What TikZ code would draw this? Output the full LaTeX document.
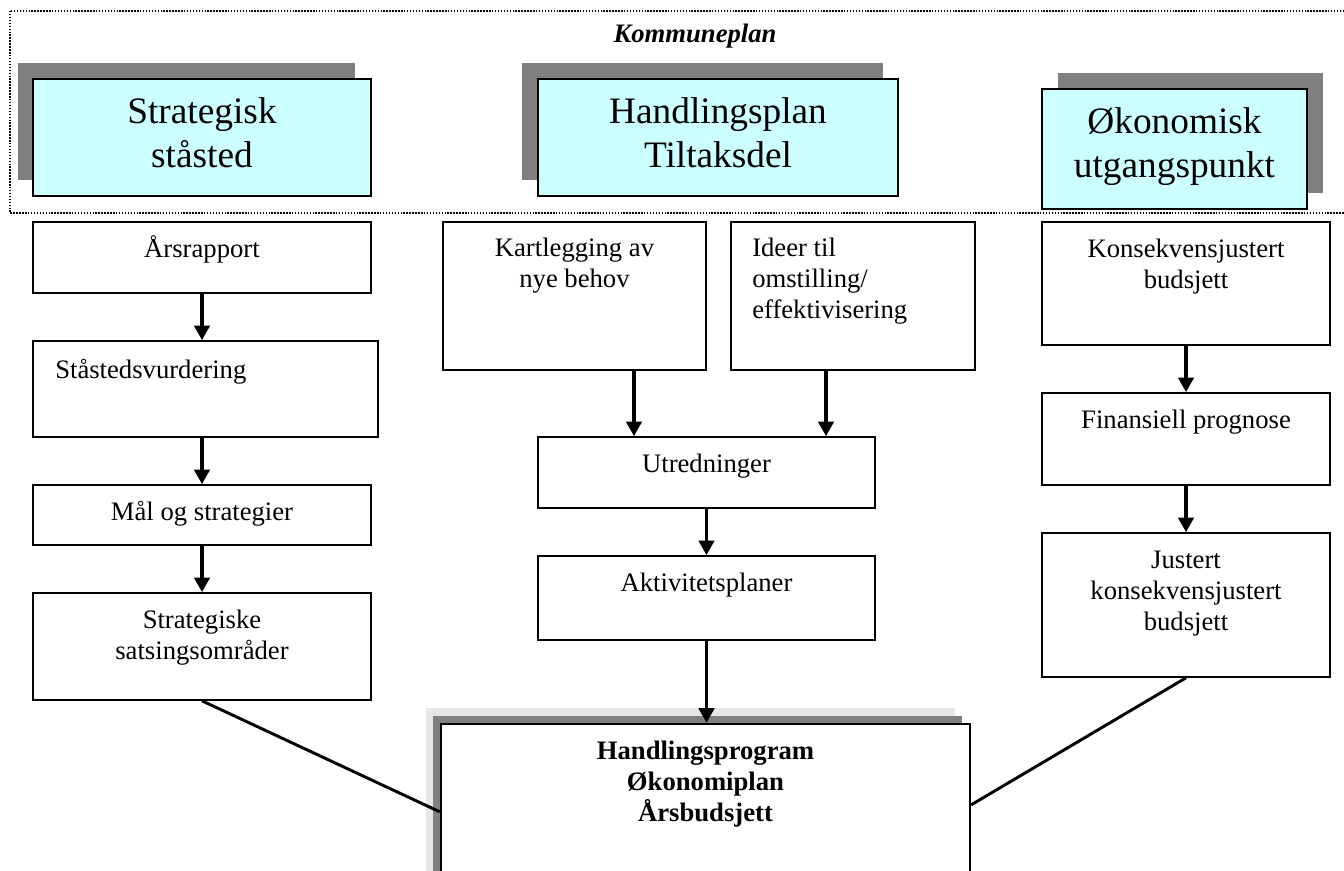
\documentclass[tikz,border=0pt]{standalone}
\usepackage{fontspec}
\setmainfont{Liberation Serif}
\usetikzlibrary{arrows.meta,fit}
\definecolor{hdr}{HTML}{CCFFFF}
\definecolor{shd}{HTML}{808080}
\definecolor{lshd}{HTML}{E6E6E6}
\tikzset{
  box/.style={draw, line width=1.2pt, inner sep=0pt, fill=white},
  hbox/.style={draw, line width=1.7pt, inner sep=0pt, fill=hdr},
  txt/.style={anchor=north, inner sep=0pt, align=center, font=\fontsize{20}{23.25}\selectfont},
  txtl/.style={txt, anchor=north west, align=left},
  htxt/.style={anchor=north, inner sep=0pt, align=center, font=\fontsize{28}{33}\selectfont},
  arr/.style={line width=2.6pt, -{Triangle[width=11.5pt,length=11pt]}},
  link/.style={line width=2.2pt},
  frame/.style={line width=1.1pt, dash pattern=on 1.1pt off 1.1pt},
}
\newcommand\st{\rule{0pt}{20pt}}
\newcommand\hst{\rule{0pt}{28pt}}
\begin{document}
\begin{tikzpicture}[x=0.75pt, y=-0.75pt]
\clip (0,0) rectangle (1344,870);
\fill[white] (0,0) rectangle (1344,870);
% Kommuneplan frame
\draw[frame] (10,11) rectangle (1380,213);
\node[txt, font=\fontsize{20}{23.25}\selectfont\bfseries\itshape] (kp) at (695,15.3) {\st Kommuneplan};
% header shadows
\fill[shd] (18,63) rectangle (355,180);
\fill[shd] (522,63) rectangle (883,180);
\fill[shd] (1058,73) rectangle (1323,193);
% header boxes
\node[hbox, fit={(33,79) (371,196)}] (h1) {};
\node[hbox, fit={(538,79) (898,196)}] (h2) {};
\node[hbox, fit={(1042,89) (1307,209)}] (h3) {};
\node[htxt] (h1t) at (202,85.7) {\hst Strategisk\\ståsted};
\node[htxt] (h2t) at (718,85.7) {\hst Handlingsplan\\Tiltaksdel};
\node[htxt] (h3t) at (1174.5,95.7) {\hst Økonomisk\\utgangspunkt};
% column 1
\node[box, fit={(33,222) (371,293)}] (ars) {};
\node[box, fit={(33,341) (378,437)}] (sta) {};
\node[box, fit={(33,485) (371,545)}] (mal) {};
\node[box, fit={(33,593) (371,700)}] (str) {};
\node[txt] (arst) at (202,230.3) {\st Årsrapport};
\node[txtl] (stat) at (55,351.3) {\st Ståstedsvurdering};
\node[txt] (malt) at (202,493.3) {\st Mål og strategier};
\node[txt] (strt) at (202,601.3) {\st Strategiske\\satsingsområder};
% column 2
\node[box, fit={(443,222) (706,370)}] (kar) {};
\node[box, fit={(731,222) (975,370)}] (ide) {};
\node[box, fit={(538,437) (875,508)}] (utr) {};
\node[box, fit={(538,556) (875,640)}] (akt) {};
\node[txt] (kart) at (574.5,229.3) {\st Kartlegging av\\nye behov};
\node[txtl] (idet) at (752,229.3) {\st Ideer til\\omstilling/\\effektivisering};
\node[txt] (utrt) at (706.5,445.3) {\st Utredninger};
\node[txt] (aktt) at (706.5,564.3) {\st Aktivitetsplaner};
% column 3
\node[box, fit={(1042,222) (1330,345)}] (kon) {};
\node[box, fit={(1042,393) (1330,485)}] (fin) {};
\node[box, fit={(1042,533) (1330,677)}] (jus) {};
\node[txt] (kont) at (1186,230.3) {\st Konsekvensjustert\\budsjett};
\node[txt] (fint) at (1186,401.3) {\st Finansiell prognose};
\node[txt] (just) at (1186,541.3) {\st Justert\\konsekvensjustert\\budsjett};
% bottom box
\fill[lshd] (426,708) rectangle (955,880);
\fill[shd] (433,716) rectangle (962,880);
\node[box, line width=1.7pt, fit={(441,724) (970,880)}] (bot) {};
\node[txt, font=\fontsize{20}{23.25}\selectfont\bfseries] (bott) at (705.5,732.3) {\st Handlingsprogram\\Økonomiplan\\Årsbudsjett};
% arrows
\draw[arr] (ars.south) -- (sta.north -| ars.south);
\draw[arr] (sta.south -| ars.south) -- (mal.north);
\draw[arr] (mal.south) -- (str.north);
\draw[arr] (kar.south -| 634,0) -- (utr.north -| 634,0);
\draw[arr] (ide.south -| 826,0) -- (utr.north -| 826,0);
\draw[arr] (utr.south) -- (akt.north);
\draw[arr] (akt.south) -- (bot.north -| akt.south);
\draw[arr] (kon.south) -- (fin.north);
\draw[arr] (fin.south) -- (jus.north);
% links
\draw[link] (str.south) -- ([yshift=-66.75pt]bot.north west);
\draw[link] (jus.south) -- ([yshift=-61.5pt]bot.north east);
\end{tikzpicture}
\end{document}
